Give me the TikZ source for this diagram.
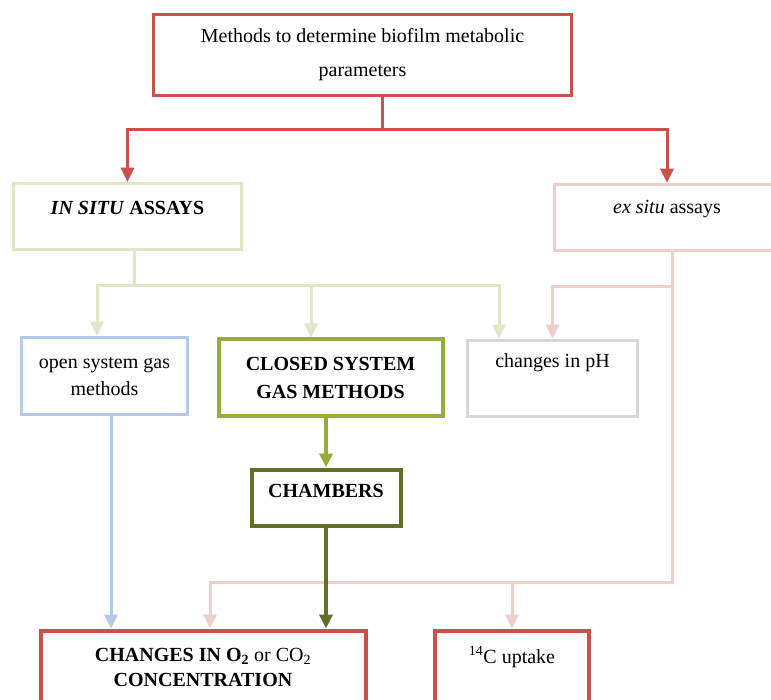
\documentclass[tikz,border=0pt]{standalone}
\usepackage{fontspec}
\setmainfont{Liberation Serif}
\usetikzlibrary{arrows.meta}

\definecolor{methodred}{HTML}{CD4F4A}
\definecolor{insitugreen}{HTML}{E0E7C8}
\definecolor{exsitupink}{HTML}{F0CECA}
\definecolor{openblue}{HTML}{B3C9E8}
\definecolor{closedolive}{HTML}{94AE3A}
\definecolor{chamberolive}{HTML}{5E7127}
\definecolor{phgray}{HTML}{D6D6D6}

\tikzset{
  methodbox/.style={draw=#1, line width=3.5pt, fill=white, align=center, inner sep=0pt,
    font=\fontsize{20}{27}\selectfont},
  link/.style={draw=#1, line width=3pt, line cap=rect},
  linkarrow/.style={draw=#1, line width=3pt, line cap=rect, -{Triangle[width=13pt,length=14pt,fill=#1]}}
}

\begin{document}
\begin{tikzpicture}[x=1pt,y=-1pt]
\useasboundingbox[fill=white] (0,0) rectangle (771,700);

%boxes%
\node[methodbox=methodred, minimum width=418pt, minimum height=81pt] (methods) at (362.5,55)
  {Methods to determine biofilm metabolic\\[7pt]parameters};
\node[methodbox=insitugreen, minimum width=228pt, minimum height=66pt] (insitu) at (127.5,216.5)
  {\textbf{\textit{IN SITU}} \textbf{ASSAYS}\\[-10pt]\mbox{}};
\node[methodbox=exsitupink, minimum width=225pt, minimum height=66pt] (exsitu) at (667,217.5)
  {\textit{ex situ} assays\\[-6pt]\mbox{}};
\node[methodbox=openblue, minimum width=166pt, minimum height=77pt] (open) at (104.5,376)
  {open system gas\\methods};
\node[methodbox=closedolive, line width=4pt, minimum width=224pt, minimum height=76pt] (closed) at (330.5,377.5)
  {\textbf{CLOSED SYSTEM}\\[1pt]\textbf{GAS METHODS}};
\node[methodbox=phgray, minimum width=170pt, minimum height=76pt] (ph) at (552.5,378.5)
  {changes in pH\\[8pt]\mbox{}};
\node[methodbox=chamberolive, line width=4pt, minimum width=149pt, minimum height=56pt] (chambers) at (326,497.5)
  {\textbf{CHAMBERS}\\[-14pt]\mbox{}};
\node[methodbox=methodred, line width=4pt, minimum width=325pt, minimum height=74pt] (changes) at (203,667.5)
  {\textbf{CHANGES IN O\textsubscript{2}} or CO\textsubscript{2}\\[-2pt]\textbf{CONCENTRATION}};
\node[methodbox=methodred, line width=4pt, minimum width=154pt, minimum height=74pt] (carbon) at (512,667.5)
  {\textsuperscript{14}C uptake\\[-2pt]\mbox{}};

%junctions%
\coordinate (rj) at (382,130);
\coordinate (gj) at (134,286);
\coordinate (ga) at (97,286);
\coordinate (gb) at (311,286);
\coordinate (gc) at (499,286);
\coordinate (pj) at (672,287);
\coordinate (pb) at (672,582);
\coordinate (pc) at (210,582);

%connectors%
\draw[link=methodred] (methods.south -| rj) -- (rj);
\draw[linkarrow=methodred] (rj) -| (insitu.north);
\draw[linkarrow=methodred] (rj) -| (exsitu.north);

\draw[link=insitugreen] (insitu.south -| gj) -- (gj);
\draw[linkarrow=insitugreen] (gj) -- (ga) -- (ga |- open.north);
\draw[linkarrow=insitugreen] (gj) -- (gc) -- (gc |- ph.north);
\draw[linkarrow=insitugreen] (gb) -- (gb |- closed.north);

\draw[linkarrow=exsitupink] (exsitu.south -| pj) -- (pb) -- (pc) -- (pc |- changes.north);
\draw[linkarrow=exsitupink] (pj) -| (ph.north);
\draw[linkarrow=exsitupink] (pb -| carbon.north) -- (carbon.north);

\draw[linkarrow=openblue] ([xshift=6.5pt]open.south) -- ([xshift=6.5pt]open.south |- changes.north);
\draw[linkarrow=closedolive, line width=4pt] (closed.south -| chambers.north) -- (chambers.north);
\draw[linkarrow=chamberolive, line width=4pt] (chambers.south) -- (chambers.south |- changes.north);
\end{tikzpicture}
\end{document}
